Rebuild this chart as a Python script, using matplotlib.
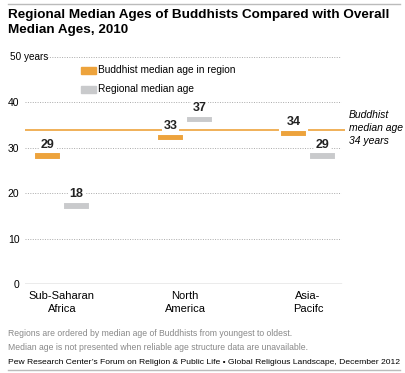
import matplotlib.pyplot as plt
import matplotlib.transforms as mtransforms

plt.rcParams['font.family'] = ['Liberation Sans', 'DejaVu Sans']

regions = ['Sub-Saharan\nAfrica', 'North\nAmerica', 'Asia-\nPacifc']
buddhist_age = [29, 33, 34]
regional_age = [18, 37, 29]
overall_buddhist = 34
yticks = [0, 10, 20, 30, 40, 50]

orange = '#EDA33C'
gray = '#C9CACC'

fig = plt.figure(figsize=(4.05, 3.73), dpi=100)
W, H = 405.0, 373.0
ax = fig.add_axes([25 / W, 1 - 284 / H, 320 / W, 227 / H])

x = list(range(len(regions)))
bw = 0.22
off = 0.118
mh = 1.6  # marker thickness in years

ax.bar([i - off for i in x], [mh] * 3, bottom=[v - mh for v in buddhist_age], width=bw,
       color=orange, edgecolor='white', linewidth=1.5, zorder=4)
ax.bar([i + off for i in x], [mh] * 3, bottom=[v - mh for v in regional_age], width=bw,
       color=gray, edgecolor='white', linewidth=1.5, zorder=4)

for i in x:
    ax.text(i - off, buddhist_age[i] + 0.4, str(buddhist_age[i]), ha='center', va='bottom',
            fontsize=9, fontweight='bold', color='#222222', zorder=5,
            bbox=dict(boxstyle='square,pad=0.1', fc='white', ec='none'))
    ax.text(i + off, regional_age[i] + 0.4, str(regional_age[i]), ha='center', va='bottom',
            fontsize=9, fontweight='bold', color='#222222', zorder=5,
            bbox=dict(boxstyle='square,pad=0.1', fc='white', ec='none'))

ax.axhline(overall_buddhist, color=orange, linewidth=1.2, zorder=3)

ax.set_xlim(-0.30, 2.30)
ax.set_ylim(0, 50)
gx = 316 / 320.0
for t in yticks[1:-1]:
    ax.axhline(t, xmax=gx, color='#AAAAAA', linestyle=(0, (1, 1.5)), linewidth=0.7, zorder=1)
ax.axhline(50, xmin=22 / 320.0, xmax=gx, color='#AAAAAA', linestyle=(0, (1, 1.5)), linewidth=0.7, zorder=1)
ax.axhline(0, xmax=gx, color='#999999', linewidth=1.0, zorder=2)

for s in ax.spines.values():
    s.set_visible(False)
ax.set_yticks(yticks)
ax.set_yticklabels([str(t) for t in yticks[:-1]] + [''], fontsize=7.5)
ax.tick_params(axis='y', length=0, pad=4)
ax.set_xticks(x)
ax.set_xticklabels(regions, fontsize=8, linespacing=1.4)
ax.tick_params(axis='x', length=0, pad=5)

trans = mtransforms.blended_transform_factory(ax.transAxes, ax.transData)
ax.text(-15 / 320.0, 50, '50 years', transform=trans, ha='left', va='center', fontsize=7.2)
ax.text(1.0 + 4 / 320.0, overall_buddhist + 0.3, 'Buddhist\nmedian age\n34 years', transform=trans,
        ha='left', va='center', fontsize=7.5, style='italic', linespacing=1.35, clip_on=False)

# legend
fig.patches.append(plt.Rectangle((81 / W, 1 - 74 / H), 15 / W, 7 / H, color=orange, transform=fig.transFigure))
fig.patches.append(plt.Rectangle((81 / W, 1 - 93 / H), 15 / W, 7 / H, color=gray, transform=fig.transFigure))
fig.text(98 / W, 1 - 70 / H, 'Buddhist median age in region', fontsize=7.3, va='center')
fig.text(98 / W, 1 - 89 / H, 'Regional median age', fontsize=7.3, va='center')

# title and notes
fig.add_artist(plt.Line2D([8 / W, 400 / W], [1 - 4 / H, 1 - 4 / H], color='#BBBBBB', linewidth=1))
fig.text(8 / W, 1 - 9 / H, 'Regional Median Ages of Buddhists Compared with Overall\nMedian Ages, 2010',
         fontsize=9.7, fontweight='bold', va='top', linespacing=1.3)
fig.text(8 / W, 1 - 334 / H, 'Regions are ordered by median age of Buddhists from youngest to oldest.',
         fontsize=6.2, color='#888888', va='center')
fig.text(8 / W, 1 - 348 / H, 'Median age is not presented when reliable age structure data are unavailable.',
         fontsize=6.2, color='#888888', va='center')
fig.text(8 / W, 1 - 362 / H,
         'Pew Research Center\u2019s Forum on Religion & Public Life \u2022 Global Religious Landscape, December 2012',
         fontsize=6.1, color='black', va='center')
fig.add_artist(plt.Line2D([8 / W, 400 / W], [1 - 370 / H, 1 - 370 / H], color='#BBBBBB', linewidth=1))

fig.savefig('out.png', dpi=100)
